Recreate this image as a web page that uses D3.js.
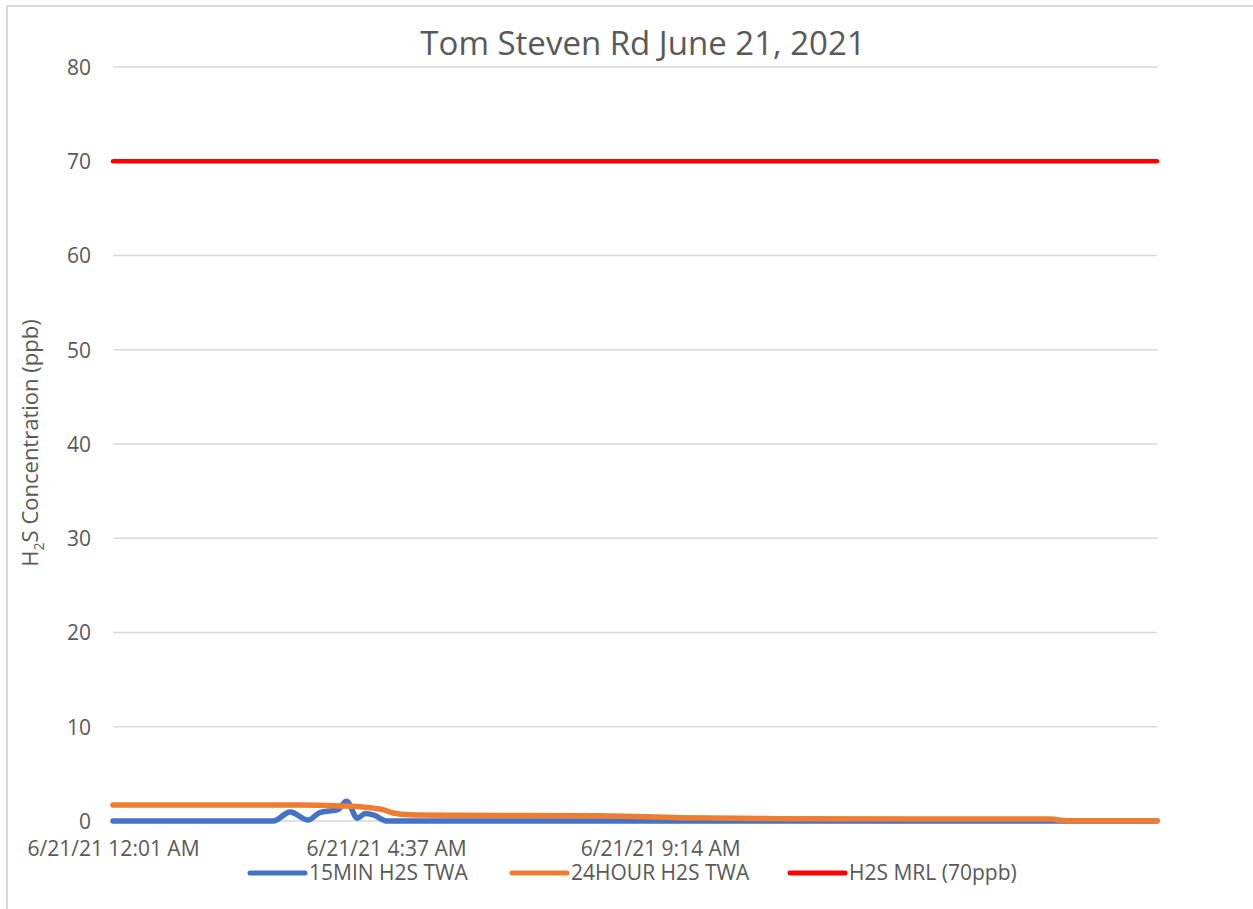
<!DOCTYPE html>
<html lang="en">
<head>
    <meta charset="UTF-8">
    <title>Tom Steven Rd June 21, 2021</title>
    <script src="https://d3js.org/d3.v7.min.js"></script>
    <style>
        body { margin: 0; background: #fff; }
        svg text { font-family: "Open Sans", "Noto Sans", sans-serif; }
        .grid line { stroke: #d9d9d9; stroke-width: 1.5; }
        .axis text { fill: #595959; font-size: 21px; }
        .axis path, .axis line { display: none; }
    </style>
</head>
<body>
<script>
// Data (times of day, values in ppb)
const times15 = ["00:01", "02:43", "03:00", "03:18", "03:30", "03:43", "03:48", "03:57", "04:08", "04:16", "04:24", "04:38", "17:36"];
const vals15 = [0, 0, 0.95, 0.1, 0.9, 1.1, 1.2, 2.1, 0.3, 0.8, 0.65, 0, 0];

const times24 = ["00:01", "03:10", "03:50", "04:11", "04:34", "04:44", "05:01", "05:42", "08:10", "09:34", "11:15", "15:48", "16:05", "17:36"];
const vals24 = [1.7, 1.7, 1.6, 1.5, 1.2, 0.85, 0.65, 0.6, 0.55, 0.35, 0.25, 0.2, 0.03, 0.03];

const timesMRL = ["00:01", "17:36"];
const valsMRL = [70, 70];

const xTicks = ["00:01", "04:37", "09:14"];
const yTicks = [0, 10, 20, 30, 40, 50, 60, 70, 80];

const seriesNames = ["15MIN H2S TWA", "24HOUR H2S TWA", "H2S MRL (70ppb)"];
const colors = ["#4472C4", "#ED7D31", "#FF0000"];

const W = 1253, H = 909;
const margin = {top: 67, right: 96, bottom: 88, left: 113};
const width = W - margin.left - margin.right;
const height = H - margin.top - margin.bottom;

const parse = d3.timeParse("%Y-%m-%d %H:%M");
const t = s => parse("2021-06-21 " + s);

const svg = d3.select("body").append("svg")
    .attr("width", W)
    .attr("height", H);

// chart border
svg.append("rect")
    .attr("x", 7).attr("y", 6)
    .attr("width", W + 20).attr("height", H + 20)
    .attr("fill", "none")
    .attr("stroke", "#d9d9d9")
    .attr("stroke-width", 2);

const g = svg.append("g")
    .attr("transform", `translate(${margin.left},${margin.top})`);

const x = d3.scaleTime().domain([t("00:01"), t("17:36")]).range([0, width]);
const y = d3.scaleLinear().domain([0, 80]).range([height, 0]);

// gridlines
g.append("g").attr("class", "grid")
    .selectAll("line")
    .data(yTicks)
    .join("line")
    .attr("x1", 0).attr("x2", width)
    .attr("y1", d => y(d)).attr("y2", d => y(d));

// y axis
g.append("g").attr("class", "axis")
    .attr("font-family", null)
    .call(d3.axisLeft(y).tickValues(yTicks).tickSize(0).tickPadding(22))
    .attr("font-family", null)
    .attr("font-size", null)
    .selectAll("text").attr("dy", "0.35em");

// x axis
const fmt = d3.timeFormat("%-m/%-d/%y %-I:%M %p");
g.append("g").attr("class", "axis")
    .attr("transform", `translate(0,${height})`)
    .call(d3.axisBottom(x).tickValues(xTicks.map(t)).tickFormat(fmt).tickSize(0).tickPadding(20))
    .attr("font-family", null)
    .attr("font-size", null);

// lines
const line = d3.line().x(d => x(d[0])).y(d => y(d[1])).curve(d3.curveMonotoneX);
const series = [
    times15.map((s, i) => [t(s), vals15[i]]),
    times24.map((s, i) => [t(s), vals24[i]]),
    timesMRL.map((s, i) => [t(s), valsMRL[i]])
];
g.selectAll(".series")
    .data(series)
    .join("path")
    .attr("class", "series")
    .attr("d", line)
    .attr("fill", "none")
    .attr("stroke", (d, i) => colors[i])
    .attr("stroke-width", (d, i) => i === 2 ? 4.5 : 5.5)
    .attr("stroke-linejoin", "round")
    .attr("stroke-linecap", "round");

// title
svg.append("text")
    .attr("x", 643).attr("y", 55)
    .attr("text-anchor", "middle")
    .attr("fill", "#595959")
    .style("font-size", "33px")
    .text("Tom Steven Rd June 21, 2021");

// y label with subscript
const yl = svg.append("text")
    .attr("transform", "translate(38,443) rotate(-90)")
    .attr("text-anchor", "middle")
    .attr("fill", "#595959")
    .style("font-size", "22px");
yl.append("tspan").text("H");
yl.append("tspan").text("2").attr("dy", 6).style("font-size", "14px");
yl.append("tspan").text("S Concentration (ppb)").attr("dy", -6);

// legend
const legendX = [250, 512, 790];
const leg = svg.append("g").selectAll("g")
    .data(seriesNames)
    .join("g")
    .attr("transform", (d, i) => `translate(${legendX[i]},873)`);
leg.append("line")
    .attr("x1", 0).attr("x2", 55)
    .attr("stroke", (d, i) => colors[i])
    .attr("stroke-width", 5)
    .attr("stroke-linecap", "round");
leg.append("text")
    .attr("x", 59).attr("dy", "0.35em")
    .attr("fill", "#595959")
    .style("font-size", "21px")
    .text(d => d);
</script>
</body>
</html>
